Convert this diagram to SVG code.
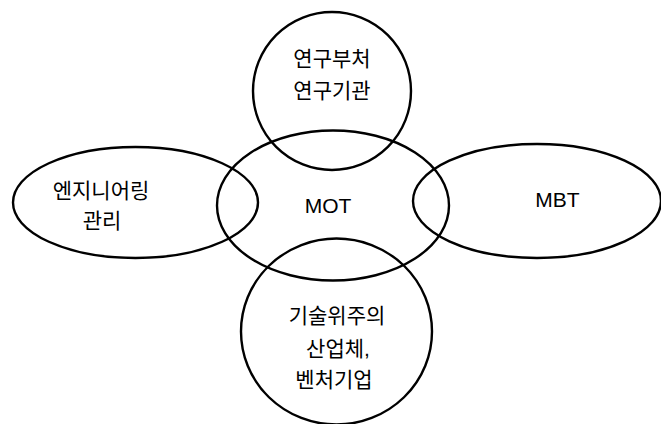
<svg xmlns="http://www.w3.org/2000/svg" width="661" height="424" viewBox="0 0 661 424">
<style>
.s{fill:none;stroke:#000;stroke-width:2.4}
.t{font-family:"Liberation Sans","Noto Sans CJK KR",sans-serif;font-size:21px;fill:#000;text-anchor:middle}
</style>
<rect width="661" height="424" fill="#fff"/>
<g id="mot"><ellipse class="s" cx="333" cy="205.5" rx="116" ry="75"/><text class="t" x="328" y="213">MOT</text></g>
<g id="research"><circle class="s" cx="332" cy="91" r="79"/><text class="t" x="332" y="66">연구부처</text><text class="t" x="332" y="98">연구기관</text></g>
<g id="engineering"><ellipse class="s" cx="135.5" cy="202.5" rx="122.5" ry="55.5"/><text class="t" x="101" y="198">엔지니어링</text><text class="t" x="102" y="228">관리</text></g>
<g id="mbt"><ellipse class="s" cx="537" cy="201" rx="124" ry="57"/><text class="t" x="557.5" y="207">MBT</text></g>
<g id="industry"><ellipse class="s" cx="336.5" cy="331.5" rx="95.5" ry="93"/><text class="t" x="337" y="323">기술위주의</text><text class="t" x="338" y="356">산업체,</text><text class="t" x="334" y="387">벤처기업</text></g>
<g id="connectors"></g>
</svg>
